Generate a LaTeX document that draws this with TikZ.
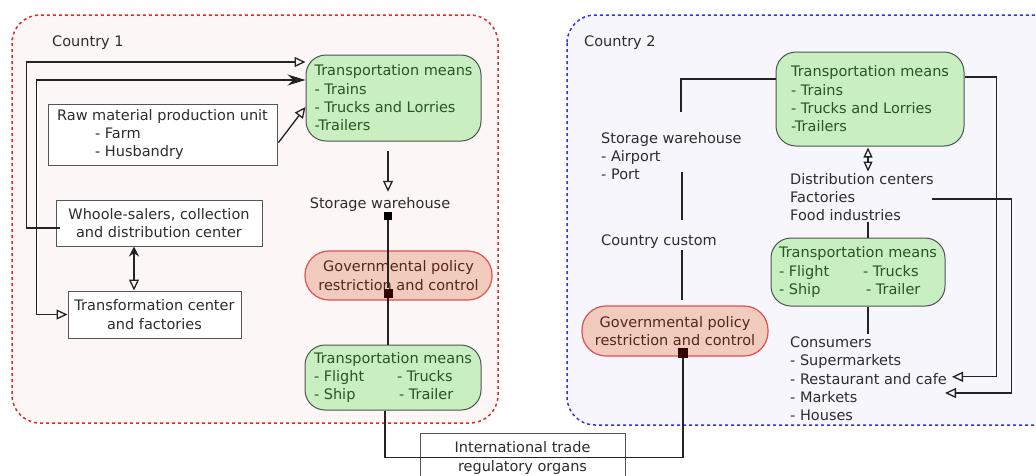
\documentclass[tikz,border=0pt]{standalone}
\usepackage{fontspec}
\setmainfont{DejaVu Sans}
\usetikzlibrary{arrows.meta,calc}
\definecolor{txt}{RGB}{45,45,45}
\definecolor{cline}{RGB}{35,35,35}
\definecolor{boxline}{RGB}{85,85,85}
\definecolor{gfill}{RGB}{200,238,194}
\definecolor{gline}{RGB}{75,85,75}
\definecolor{gtext}{RGB}{40,85,35}
\definecolor{govfill}{RGB}{240,203,190}
\definecolor{govline}{RGB}{224,80,80}
\definecolor{govtext}{RGB}{85,38,28}
\definecolor{c1fill}{RGB}{252,246,246}
\definecolor{c1line}{RGB}{224,40,40}
\definecolor{c2fill}{RGB}{246,246,252}
\definecolor{c2line}{RGB}{50,50,224}
\begin{document}
\begin{tikzpicture}[x=1pt,y=-1pt,
  every node/.style={font=\fontsize{14.5}{18.3}\selectfont, text=txt},
  pbox/.style={draw=boxline, fill=white, line width=1pt, align=center, inner sep=0},
  gbox/.style={draw=gline, fill=gfill, rounded corners=20pt, line width=1pt, text=gtext, align=left, inner sep=0},
  govbox/.style={draw=govline, fill=govfill, rounded corners=24pt, line width=1.2pt, text=govtext, align=center, inner sep=0},
  lbl/.style={inner sep=0, align=left, anchor=north west},
  sq/.style={fill=black, inner sep=0, minimum size=8pt},
  conn/.style={draw=cline, line width=1.3pt},
  oa/.style={-{Triangle[open,length=11pt,width=10pt]}},
  country/.style={line width=1.5pt, dash pattern=on 3pt off 3pt, rounded corners=28pt}
]
\useasboundingbox (0,0) rectangle (1036,475);
% countries
\draw[country, draw=c1line, fill=c1fill] (12,15) rectangle (498,423);
\draw[country, draw=c2line, fill=c2fill] (567,15) rectangle (1062,425);
\node[anchor=base west, inner sep=0] (c1) at (52,46) {Country 1};
\node[anchor=base west, inner sep=0] (c2) at (584,46) {Country 2};

% ---- Country 1 nodes
\node[gbox, minimum width=175pt, minimum height=86pt] (T1) at (393.5,98)
  {Transportation means\\- Trains\\- Trucks and Lorries\\-Trailers};
\node[pbox, align=left, minimum width=229pt, minimum height=61pt] (raw) at (162.5,134.5)
  {Raw material production unit\\\hspace*{38pt}- Farm\\\hspace*{38pt}- Husbandry};
\node[pbox, minimum width=206pt, minimum height=46pt] (whole) at (159,223)
  {Whoole-salers, collection\\and distribution center};
\node[pbox, minimum width=173pt, minimum height=47pt] (transf) at (154.5,314.5)
  {Transformation center\\and factories};
\node[inner sep=0] (sw1) at (380,204) {Storage warehouse};
\node[govbox, minimum width=187pt, minimum height=49pt] (gov1) at (398.5,275.5)
  {Governmental policy\\restriction and control};
\node[gbox, minimum width=176pt, minimum height=65pt] (T2) at (393,377.5)
  {Transportation means\\\makebox[83pt][l]{- Flight}- Trucks\\\makebox[85pt][l]{- Ship}- Trailer};
\node[pbox, minimum width=205pt, minimum height=50pt] (intl) at (522.5,458)
  {International trade\\regulatory organs};

% ---- Country 2 nodes
\node[gbox, minimum width=188pt, minimum height=94pt] (T3) at (870,99)
  {Transportation means\\- Trains\\- Trucks and Lorries\\-Trailers};
\node[lbl] (sw2) at (601,132) {Storage warehouse\\- Airport\\- Port};
\node[anchor=base west, inner sep=0] (cc) at (601,245) {Country custom};
\node[govbox, minimum width=186pt, minimum height=50pt] (gov2) at (675,331)
  {Governmental policy\\restriction and control};
\node[lbl] (dist) at (790,173) {Distribution centers\\Factories\\Food industries};
\node[gbox, minimum width=174pt, minimum height=68pt] (T4) at (858,272)
  {Transportation means\\\makebox[84pt][l]{- Flight}- Trucks\\\makebox[87pt][l]{- Ship}- Trailer};
\node[lbl] (cons) at (790,336.5) {Consumers\\- Supermarkets\\- Restaurant and cafe\\- Markets\\- Houses};
\coordinate (swtop) at (681,112);
\coordinate (mk) at (945,393);

% ---- connectors Country 1
\draw[conn, oa] ($(whole.west)+(4,5)$) -- ++(-33,0) |- ($(T1.west)+(0,-36)$);
\draw[conn, {Triangle[open,length=11pt,width=10pt]}-{Stealth[length=18pt,width=11pt]}]
  (transf.west) -- ++(-31,0) |- ($(T1.west)+(0,-18)$);
\draw[conn, oa] ($(raw.east)+(1,8)$) -- ($(T1.west)+(0,9)$);
\draw[conn, {Stealth[length=10pt,width=10pt]}-{Triangle[open,length=11pt,width=10pt]}]
  ($(whole.south)+(-25,0)$) -- ($(transf.north)+(-20.5,0)$);
\draw[conn, oa] ($(T1.south)+(-5.5,9)$) -- ($(sw1.north)+(8,-5)$);
\node[sq] (sq1) at (388,216) {};
\node[sq, fill=black!80!red, minimum size=9pt] (gsq1) at (388,293) {};
\draw[conn] (sq1) -- (gsq1);
\draw[conn] (gsq1) -- (gsq1 |- T2.north);
\node[sq, fill=black!80!red, minimum size=10pt] (gsq2) at (683,353) {};
\draw[conn] ($(T2.south)+(-8,0)$) -- ++(0,47) -| (gsq2);

% ---- connectors Country 2
\draw[conn] (swtop) |- ($(T3.west)+(0,-20)$);
\draw[conn] ($(sw2.south -| gsq2)+(-1,-8)$) -- ($(cc.north -| gsq2)+(-1,-14)$);
\draw[conn] ($(cc.south -| gsq2)+(-1,2)$) -- ($(gov2.north -| gsq2)+(-1,-5)$);
\draw[conn, {Triangle[open,length=10pt,width=9pt]}-{Triangle[open,length=10pt,width=9pt]}]
  ($(T3.south)+(-2,1)$) -- ($(T3.south)+(-2,25)$);
\draw[conn] ($(T4.north)+(10,-16)$) -- ($(T4.north)+(10,0)$);
\draw[conn] ($(T4.south)+(10,0)$) -- ++(0,27);
\draw[conn, oa] ($(T3.east)+(0,-22)$) -- ++(32,0) |- ($(cons.east)+(5,-2)$);
\draw[conn, oa] ($(dist.east)+(-2,2)$) -- ++(80,0) |- (mk);
\end{tikzpicture}
\end{document}
